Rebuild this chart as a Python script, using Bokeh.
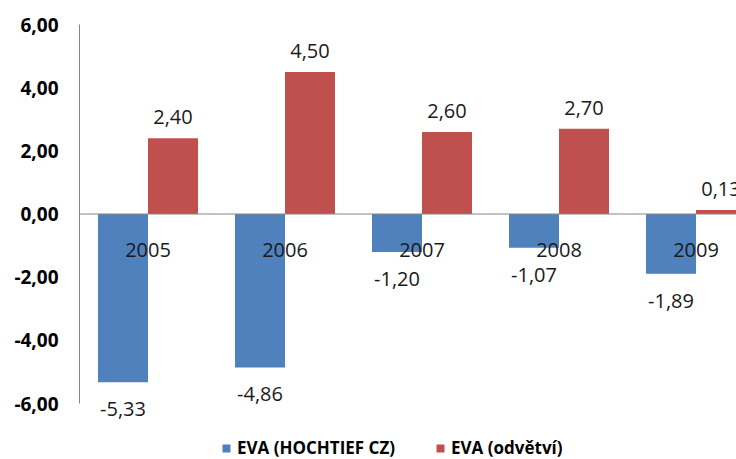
from bokeh.plotting import figure
from bokeh.models import FixedTicker, Legend, LegendItem, ColumnDataSource, Range1d
from bokeh.core.properties import value
from bokeh.embed import file_html
from bokeh.resources import INLINE

years = ["2005", "2006", "2007", "2008", "2009"]
eva_hochtief = [-5.33, -4.86, -1.20, -1.07, -1.89]
eva_odvetvi = [2.40, 4.50, 2.60, 2.70, 0.13]
y_ticks = [-6, -4, -2, 0, 2, 4, 6]

BLUE = "#4F81BD"
RED = "#C0504D"
GRAY = "#868686"
FONT = "Open Sans"
BAR_W = 0.365

# pixel geometry of the value axis: 6 at 24px, -6 at 403px from the top
CAT_PX = 137.0
PX_PER_UNIT = 379.0 / 12.0
Y_TOP = 6 + 24 / PX_PER_UNIT
Y_BOTTOM = -6 - 56 / PX_PER_UNIT


def cz(v):
    return f"{v:.2f}".replace(".", ",")


idx = list(range(len(years)))
src = ColumnDataSource(dict(
    x_blue=[i - BAR_W / 2 for i in idx],
    x_red=[i + BAR_W / 2 for i in idx],
    x_year=idx,
    blue=eva_hochtief,
    red=eva_odvetvi,
    blue_lbl=[cz(v) for v in eva_hochtief],
    red_lbl=[cz(v) for v in eva_odvetvi],
    zero=[0] * len(years),
    year=years,
))

x_start = -0.5 - 1 / CAT_PX
x_end = x_start + 658 / CAT_PX
p = figure(width=736, height=459, output_backend="svg", toolbar_location=None,
           x_range=Range1d(x_start, x_end), y_range=Range1d(Y_BOTTOM, Y_TOP),
           min_border_left=78, min_border_right=0, min_border_top=0, min_border_bottom=0)
p.outline_line_color = None
p.xgrid.visible = False
p.ygrid.visible = False
p.xaxis.visible = False

ya = p.yaxis[0]
ya.ticker = FixedTicker(ticks=y_ticks)
ya.major_label_overrides = {t: cz(t) for t in y_ticks}
ya.major_tick_line_color = None
ya.major_tick_out = 0
ya.major_tick_in = 0
ya.minor_tick_line_color = None
ya.axis_line_color = None
ya.major_label_standoff = 20
ya.major_label_text_font = FONT
ya.major_label_text_font_style = "bold"
ya.major_label_text_font_size = "19px"
ya.major_label_text_color = "#000000"

# value axis line, spanning only the -6..6 range
p.segment(x0=[-0.5], y0=[y_ticks[0]], x1=[-0.5], y1=[y_ticks[-1]], line_color=GRAY, line_width=1)

rb = p.vbar(x="x_blue", top="blue", width=BAR_W, source=src, color=BLUE, line_color=None)
rr = p.vbar(x="x_red", top="red", width=BAR_W, source=src, color=RED, line_color=None)

# category axis line at zero
p.segment(x0=[-0.5], y0=[0], x1=[x_end], y1=[0], line_color=GRAY, line_width=1)

common = dict(text_font=value(FONT), text_font_size="20px", text_color="#1a1a1a", text_align="center")
p.text(x="x_red", y="red", text="red_lbl", source=src, text_baseline="bottom", y_offset=-14, **common)
p.text(x="x_blue", y="blue", text="blue_lbl", source=src, text_baseline="top", y_offset=20, **common)
p.text(x="x_year", y="zero", text="year", source=src, text_baseline="middle", y_offset=36, **common)

legend = Legend(items=[LegendItem(label="EVA (HOCHTIEF CZ)", renderers=[rb]),
                       LegendItem(label="EVA (odvětví)", renderers=[rr])],
                orientation="horizontal", location=(143, 0),
                glyph_width=10, glyph_height=10, label_standoff=6, spacing=40,
                padding=0, margin=0, border_line_color=None, background_fill_alpha=0,
                label_text_font=FONT, label_text_font_style="bold",
                label_text_font_size="17px", label_text_color="#000000", label_height=18)
p.add_layout(legend, "center")

open("out.html", "w").write(file_html(p, INLINE))
